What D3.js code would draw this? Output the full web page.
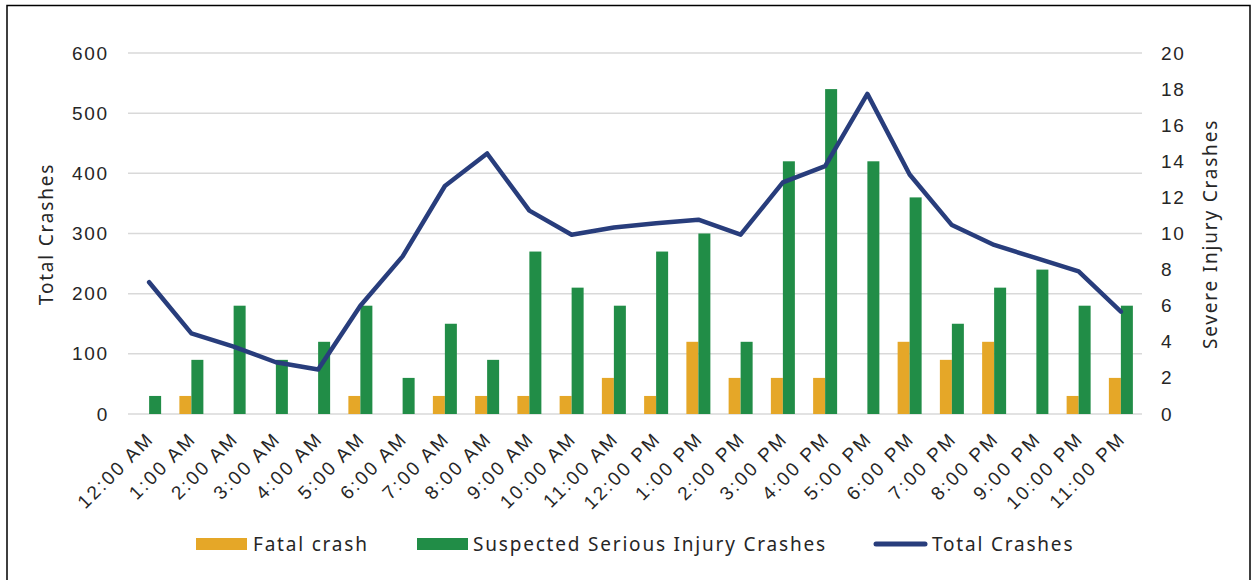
<!DOCTYPE html>
<html><head><meta charset="utf-8">
<script src="https://cdn.jsdelivr.net/npm/d3@7"></script>
<style>
body{margin:0;background:#fff;}
svg{display:block;font-family:"Noto Sans",sans-serif;letter-spacing:1.8px;}
</style></head>
<body><svg id="c" width="1252" height="580"></svg>
<script>
const categories = ["12:00 AM","1:00 AM","2:00 AM","3:00 AM","4:00 AM","5:00 AM","6:00 AM","7:00 AM","8:00 AM","9:00 AM","10:00 AM","11:00 AM","12:00 PM","1:00 PM","2:00 PM","3:00 PM","4:00 PM","5:00 PM","6:00 PM","7:00 PM","8:00 PM","9:00 PM","10:00 PM","11:00 PM"];
const fatal = [0,1,0,0,0,1,0,1,1,1,1,2,1,4,2,2,2,0,4,3,4,0,1,2];
const serious = [1,3,6,3,4,6,2,5,3,9,7,6,9,10,4,14,18,14,12,5,7,8,6,6];
const total = [219,134,112,86,74,180,262,379,433,338,298,310,317,323,298,385,412,532,398,314,281,259,237,170];
const leftTicks = [0,100,200,300,400,500,600];
const rightTicks = [0,2,4,6,8,10,12,14,16,18,20];
const seriesNames = ["Fatal crash","Suspected Serious Injury Crashes","Total Crashes"];

const colors = {fatal:"#E5A728", serious:"#218D47", total:"#283D7C", grid:"#D9D9D9", text:"#262626"};
const svg = d3.select("#c");
const m = {left:128, right:1142, top:53, bottom:414};

svg.append("rect").attr("x",7).attr("y",5.5).attr("width",1243).attr("height",590)
  .attr("fill","none").attr("stroke","#000").attr("stroke-width",1.5);

const x = d3.scaleBand().domain(categories).range([m.left,m.right]).paddingInner(0).paddingOuter(0);
const yL = d3.scaleLinear().domain([0,600]).range([m.bottom,m.top]);
const yR = d3.scaleLinear().domain([0,20]).range([m.bottom,m.top]);

// gridlines
svg.append("g").selectAll("line").data(leftTicks).join("line")
  .attr("x1",m.left).attr("x2",m.right)
  .attr("y1",d=>yL(d)).attr("y2",d=>yL(d))
  .attr("stroke",colors.grid).attr("stroke-width",1.5);

// left axis
const gl = svg.append("g").attr("transform",`translate(${m.left-19},0)`)
  .call(d3.axisLeft(yL).tickValues(leftTicks).tickSize(0).tickPadding(0));
gl.select(".domain").remove();
gl.selectAll("text").attr("font-size",19).attr("fill",colors.text);

// right axis
const gr = svg.append("g").attr("transform",`translate(${m.right+19},0)`)
  .call(d3.axisRight(yR).tickValues(rightTicks).tickSize(0).tickPadding(0));
gr.select(".domain").remove();
gr.selectAll("text").attr("font-size",19).attr("fill",colors.text);

// x axis labels
const bw = 12;
const gx = svg.append("g").attr("transform",`translate(0,${m.bottom})`)
  .call(d3.axisBottom(x).tickSize(0).tickPadding(0));
gx.select(".domain").remove();
gx.selectAll("text").attr("font-size",19).attr("fill",colors.text)
  .attr("text-anchor","end").attr("dy",0).style("letter-spacing","2.3px")
  .attr("transform","translate(6,26) rotate(-45)");

// bars
const cx = d => x(d) + x.bandwidth()/2;
svg.append("g").selectAll("rect").data(categories).join("rect")
  .attr("x",d=>cx(d)-bw).attr("width",bw)
  .attr("y",(d,i)=>yR(fatal[i])).attr("height",(d,i)=>yR(0)-yR(fatal[i]))
  .attr("fill",colors.fatal);
svg.append("g").selectAll("rect").data(categories).join("rect")
  .attr("x",d=>cx(d)).attr("width",bw)
  .attr("y",(d,i)=>yR(serious[i])).attr("height",(d,i)=>yR(0)-yR(serious[i]))
  .attr("fill",colors.serious);

// line
const line = d3.line().x((d,i)=>cx(categories[i])).y(d=>yL(d));
svg.append("path").datum(total).attr("d",line).attr("fill","none")
  .attr("stroke",colors.total).attr("stroke-width",4.5).attr("stroke-linejoin","round").attr("stroke-linecap","round");

// axis titles
svg.append("text").attr("transform","translate(53,234) rotate(-90)").attr("text-anchor","middle")
  .attr("font-size",19).attr("fill",colors.text).text("Total Crashes");
svg.append("text").attr("transform","translate(1217,234) rotate(-90)").attr("text-anchor","middle")
  .attr("font-size",19).attr("fill",colors.text).text("Severe Injury Crashes");

// legend
const lg = svg.append("g");
const ly = 544;
lg.append("rect").attr("x",196).attr("y",ly-6).attr("width",51).attr("height",12).attr("fill",colors.fatal);
lg.append("text").attr("x",253).attr("y",ly).attr("dy","0.35em").attr("font-size",19).attr("fill",colors.text).text(seriesNames[0]);
lg.append("rect").attr("x",417).attr("y",ly-6).attr("width",51).attr("height",12).attr("fill",colors.serious);
lg.append("text").attr("x",473).attr("y",ly).attr("dy","0.35em").attr("font-size",19).attr("fill",colors.text).text(seriesNames[1]);
lg.append("line").attr("x1",876).attr("x2",925).attr("y1",ly).attr("y2",ly).attr("stroke",colors.total).attr("stroke-width",5).attr("stroke-linecap","round");
lg.append("text").attr("x",932).attr("y",ly).attr("dy","0.35em").attr("font-size",19).attr("fill",colors.text).text(seriesNames[2]);
</script></body></html>
